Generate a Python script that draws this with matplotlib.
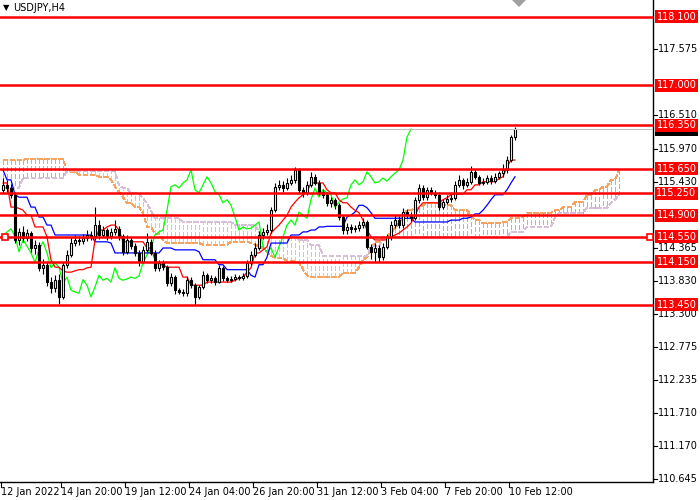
import matplotlib
matplotlib.use('Agg')
import matplotlib.pyplot as plt
from matplotlib.patches import Rectangle, Polygon

plt.rcParams['font.family'] = ['DejaVu Sans']
plt.rcParams['lines.scale_dashes'] = False

# USDJPY H4 candles (bar 0 = 12 Jan 2022)
opens = [
    115.31, 115.39, 115.34, 115.23, 114.50, 114.63, 114.53, 114.61, 114.37, 114.42,
    114.05, 114.10, 113.82, 113.72, 113.86, 113.58, 114.10, 114.26, 114.45, 114.50,
    114.48, 114.53, 114.58, 114.56, 114.74, 114.58, 114.66, 114.56, 114.63, 114.68,
    114.56, 114.31, 114.50, 114.40, 114.29, 114.14, 114.34, 114.47, 114.29, 114.05,
    114.13, 114.06, 113.80, 113.90, 113.69, 113.66, 113.64, 113.86, 113.77, 113.58,
    113.74, 113.93, 113.85, 113.88, 113.82, 114.05, 113.88, 113.85, 113.87, 113.90,
    113.88, 113.92, 114.13, 114.26, 114.37, 114.58, 114.63, 114.66, 114.98, 115.36,
    115.39, 115.34, 115.42, 115.47, 115.63, 115.31, 115.26, 115.39, 115.52, 115.42,
    115.28, 115.23, 115.10, 115.15, 115.06, 114.87, 114.66, 114.71, 114.68, 114.69,
    114.74, 114.79, 114.39, 114.31, 114.37, 114.22, 114.39, 114.55, 114.74, 114.82,
    114.74, 114.95, 114.90, 114.85, 115.15, 115.34, 115.19, 115.31, 115.26, 115.23,
    115.03, 115.11, 115.16, 115.18, 115.39, 115.47, 115.39, 115.44, 115.60, 115.52,
    115.42, 115.44, 115.50, 115.45, 115.52, 115.58, 115.63, 115.79, 116.16]
highs = [
    115.50, 115.47, 115.40, 115.28, 114.70, 114.72, 114.68, 114.64, 114.50, 114.47,
    114.20, 114.15, 113.90, 113.93, 113.95, 114.15, 114.33, 114.55, 114.58, 114.56,
    114.60, 114.66, 114.64, 115.03, 114.82, 114.72, 114.70, 114.69, 114.82, 114.73,
    114.60, 114.58, 114.55, 114.45, 114.33, 114.40, 114.62, 114.52, 114.33, 114.18,
    114.17, 114.10, 113.96, 113.93, 113.73, 113.70, 113.92, 113.90, 113.80, 113.78,
    114.00, 113.97, 113.94, 113.92, 114.10, 114.08, 113.92, 113.92, 113.95, 113.94,
    113.97, 114.18, 114.32, 114.45, 114.65, 114.70, 114.76, 115.03, 115.42, 115.47,
    115.45, 115.50, 115.55, 115.68, 115.66, 115.36, 115.45, 115.60, 115.56, 115.46,
    115.33, 115.27, 115.20, 115.18, 115.10, 114.90, 114.78, 114.75, 114.74, 114.80,
    114.85, 114.82, 114.44, 114.45, 114.42, 114.45, 114.60, 114.80, 114.90, 114.88,
    115.02, 115.00, 114.95, 115.20, 115.40, 115.38, 115.36, 115.35, 115.30, 115.27,
    115.16, 115.22, 115.24, 115.45, 115.55, 115.50, 115.50, 115.70, 115.65, 115.55,
    115.50, 115.55, 115.55, 115.58, 115.62, 115.72, 115.85, 116.20, 116.33]
lows = [
    115.25, 115.28, 115.18, 114.45, 114.42, 114.47, 114.48, 114.30, 114.28, 114.00,
    113.95, 113.75, 113.64, 113.66, 113.47, 113.55, 114.05, 114.22, 114.40, 114.42,
    114.44, 114.48, 114.50, 114.50, 114.52, 114.54, 114.50, 114.52, 114.58, 114.50,
    114.25, 114.27, 114.35, 114.24, 114.08, 114.12, 114.30, 114.25, 114.00, 114.00,
    114.02, 113.75, 113.76, 113.62, 113.62, 113.60, 113.60, 113.72, 113.45, 113.55,
    113.70, 113.80, 113.81, 113.78, 113.80, 113.84, 113.82, 113.82, 113.84, 113.85,
    113.85, 113.88, 114.10, 114.22, 114.33, 114.52, 114.58, 114.62, 114.95, 115.30,
    115.28, 115.30, 115.38, 115.42, 115.25, 115.20, 115.22, 115.35, 115.38, 115.22,
    115.18, 115.05, 115.04, 115.00, 114.82, 114.60, 114.60, 114.62, 114.63, 114.64,
    114.70, 114.35, 114.20, 114.15, 114.15, 114.18, 114.35, 114.50, 114.70, 114.70,
    114.70, 114.85, 114.80, 114.82, 115.10, 115.15, 115.15, 115.22, 115.18, 114.98,
    115.00, 115.08, 115.12, 115.15, 115.35, 115.33, 115.35, 115.40, 115.48, 115.38,
    115.38, 115.40, 115.40, 115.42, 115.48, 115.52, 115.58, 115.76, 116.12]
closes = [
    115.39, 115.34, 115.23, 114.50, 114.63, 114.53, 114.61, 114.37, 114.42, 114.05,
    114.10, 113.82, 113.72, 113.86, 113.58, 114.10, 114.26, 114.45, 114.50, 114.48,
    114.53, 114.58, 114.56, 114.74, 114.58, 114.66, 114.56, 114.63, 114.68, 114.56,
    114.31, 114.50, 114.40, 114.29, 114.14, 114.34, 114.47, 114.29, 114.05, 114.13,
    114.06, 113.80, 113.90, 113.69, 113.66, 113.64, 113.86, 113.77, 113.58, 113.74,
    113.93, 113.85, 113.88, 113.82, 114.05, 113.88, 113.85, 113.87, 113.90, 113.88,
    113.92, 114.13, 114.26, 114.37, 114.58, 114.63, 114.66, 114.98, 115.36, 115.39,
    115.34, 115.42, 115.47, 115.63, 115.31, 115.26, 115.39, 115.52, 115.42, 115.28,
    115.23, 115.10, 115.15, 115.06, 114.87, 114.66, 114.71, 114.68, 114.69, 114.74,
    114.79, 114.39, 114.31, 114.37, 114.22, 114.39, 114.55, 114.74, 114.82, 114.74,
    114.95, 114.90, 114.85, 115.15, 115.34, 115.19, 115.31, 115.26, 115.23, 115.03,
    115.11, 115.16, 115.18, 115.39, 115.47, 115.39, 115.44, 115.60, 115.52, 115.42,
    115.44, 115.50, 115.45, 115.52, 115.58, 115.63, 115.79, 116.16, 116.29]

# Ichimoku lines
tenkan = [
    115.42, 115.42, 115.03, 115.03, 115.01, 114.98, 114.90, 114.90, 114.71, 114.71,
    114.71, 114.55, 114.18, 114.06, 114.06, 114.00, 113.98, 113.98, 114.00, 114.02,
    114.02, 114.05, 114.06, 114.50, 114.66, 114.66, 114.71, 114.74, 114.74, 114.66,
    114.47, 114.47, 114.47, 114.47, 114.47, 114.47, 114.37, 114.37, 114.18, 114.10,
    114.10, 114.06, 114.06, 114.06, 114.06, 113.90, 113.90, 113.77, 113.77, 113.77,
    113.77, 113.82, 113.82, 113.82, 113.82, 113.82, 113.82, 113.82, 113.85, 113.88,
    113.90, 113.98, 114.05, 114.29, 114.29, 114.34, 114.39, 114.61, 114.68, 114.74,
    114.82, 114.90, 115.03, 115.11, 115.18, 115.23, 115.28, 115.42, 115.42, 115.42,
    115.42, 115.31, 115.26, 115.26, 115.15, 115.10, 115.10, 115.03, 114.98, 114.94,
    114.82, 114.66, 114.55, 114.50, 114.50, 114.50, 114.50, 114.55, 114.58, 114.61,
    114.66, 114.71, 114.77, 114.90, 115.03, 115.10, 115.10, 115.10, 115.10, 115.10,
    115.15, 115.18, 115.23, 115.24, 115.24, 115.24, 115.31, 115.31, 115.39, 115.39,
    115.44, 115.44, 115.44, 115.44, 115.49, 115.52, 115.68, 115.79, 115.79]
kijun = [
    115.63, 115.47, 115.47, 115.23, 115.19, 115.19, 115.19, 115.03, 115.03, 114.87,
    114.87, 114.74, 114.74, 114.58, 114.58, 114.58, 114.58, 114.58, 114.58, 114.58,
    114.58, 114.58, 114.58, 114.47, 114.47, 114.47, 114.47, 114.45, 114.29, 114.29,
    114.29, 114.29, 114.29, 114.29, 114.29, 114.29, 114.29, 114.29, 114.29, 114.29,
    114.37, 114.37, 114.37, 114.34, 114.34, 114.34, 114.34, 114.34, 114.34, 114.31,
    114.18, 114.18, 114.18, 114.18, 114.10, 114.10, 114.02, 114.02, 114.02, 114.02,
    114.02, 114.02, 113.93, 113.90, 114.10, 114.10, 114.22, 114.45, 114.45, 114.45,
    114.45, 114.45, 114.58, 114.58, 114.58, 114.63, 114.63, 114.66, 114.66, 114.71,
    114.71, 114.72, 114.72, 114.72, 114.72, 114.72, 114.87, 114.90, 114.95, 115.06,
    115.06, 115.02, 114.94, 114.85, 114.85, 114.85, 114.85, 114.85, 114.85, 114.85,
    114.85, 114.85, 114.85, 114.79, 114.79, 114.79, 114.79, 114.79, 114.79, 114.79,
    114.79, 114.79, 114.82, 114.82, 114.82, 114.85, 114.85, 114.87, 114.92, 114.92,
    114.98, 115.06, 115.15, 115.23, 115.23, 115.23, 115.31, 115.42, 115.52]
span_a = [
    115.79, 115.79, 115.79, 115.79, 115.79, 115.79, 115.81, 115.81, 115.81, 115.81,
    115.81, 115.81, 115.81, 115.81, 115.81, 115.81, 115.60, 115.60, 115.60, 115.55,
    115.55, 115.55, 115.55, 115.55, 115.52, 115.52, 115.52, 115.47, 115.36, 115.28,
    115.19, 115.10, 115.10, 115.03, 115.03, 114.94, 114.71, 114.71, 114.60, 114.60,
    114.50, 114.45, 114.45, 114.45, 114.45, 114.45, 114.45, 114.45, 114.45, 114.45,
    114.42, 114.42, 114.42, 114.42, 114.42, 114.42, 114.42, 114.47, 114.47, 114.47,
    114.47, 114.47, 114.45, 114.42, 114.40, 114.37, 114.30, 114.25, 114.21, 114.21,
    114.21, 114.16, 114.16, 114.16, 114.13, 114.02, 113.93, 113.90, 113.90, 113.90,
    113.90, 113.90, 113.90, 113.90, 113.90, 113.97, 113.97, 113.97, 113.97, 114.06,
    114.18, 114.22, 114.35, 114.47, 114.47, 114.55, 114.55, 114.62, 114.69, 114.78,
    114.87, 114.98, 114.98, 115.02, 115.02, 115.06, 115.10, 115.10, 115.10, 115.10,
    115.06, 115.06, 115.06, 114.98, 114.98, 114.98, 114.98, 114.90, 114.82, 114.82,
    114.77, 114.77, 114.77, 114.77, 114.77, 114.79, 114.79, 114.85, 114.85, 114.85,
    114.87, 114.94, 114.94, 114.94, 114.94, 114.94, 114.94, 114.94, 114.98, 114.98,
    115.03, 115.03, 115.03, 115.11, 115.11, 115.11, 115.23, 115.23, 115.31, 115.31,
    115.36, 115.36, 115.47, 115.47, 115.63]
span_b = [
    115.34, 115.34, 115.34, 115.34, 115.34, 115.50, 115.50, 115.50, 115.50, 115.50,
    115.50, 115.50, 115.50, 115.50, 115.50, 115.50, 115.61, 115.61, 115.61, 115.61,
    115.61, 115.61, 115.61, 115.61, 115.61, 115.61, 115.61, 115.61, 115.61, 115.38,
    115.34, 115.34, 115.25, 115.25, 115.25, 115.18, 115.08, 114.98, 114.85, 114.85,
    114.85, 114.85, 114.85, 114.85, 114.85, 114.79, 114.79, 114.79, 114.79, 114.79,
    114.79, 114.79, 114.79, 114.79, 114.79, 114.79, 114.79, 114.79, 114.74, 114.74,
    114.74, 114.74, 114.74, 114.74, 114.63, 114.55, 114.55, 114.55, 114.55, 114.55,
    114.55, 114.55, 114.55, 114.55, 114.50, 114.50, 114.50, 114.42, 114.42, 114.42,
    114.24, 114.24, 114.24, 114.24, 114.24, 114.24, 114.24, 114.24, 114.24, 114.24,
    114.24, 114.24, 114.40, 114.40, 114.40, 114.50, 114.55, 114.55, 114.55, 114.55,
    114.55, 114.55, 114.55, 114.55, 114.55, 114.55, 114.55, 114.55, 114.55, 114.55,
    114.55, 114.55, 114.55, 114.55, 114.55, 114.55, 114.55, 114.55, 114.55, 114.55,
    114.55, 114.55, 114.55, 114.55, 114.55, 114.55, 114.55, 114.63, 114.63, 114.63,
    114.63, 114.71, 114.71, 114.71, 114.71, 114.71, 114.71, 114.71, 114.87, 114.94,
    114.94, 114.94, 114.94, 114.94, 114.94, 114.94, 115.02, 115.02, 115.02, 115.02,
    115.02, 115.02, 115.10, 115.15, 115.23]
chikou_shift = 26

levels = [118.10, 117.00, 116.35, 115.65, 115.25, 114.90, 114.55, 114.15, 113.45]
price_ticks = [117.575, 116.510, 115.970, 115.430, 114.365, 113.830,
               113.300, 112.775, 112.235, 111.710, 111.170, 110.645]
bid = 116.29
selected_level = 114.55
time_ticks = [0, 15, 31, 47, 63, 79, 95, 111, 127]
time_labels = ['12 Jan 2022', '14 Jan 20:00', '19 Jan 12:00', '24 Jan 04:00',
               '26 Jan 20:00', '31 Jan 12:00', '3 Feb 04:00', '7 Feb 20:00',
               '10 Feb 12:00']

fig = plt.figure(figsize=(7, 5), dpi=100)
ax = fig.add_axes([0, 18 / 500, 653 / 700, 482 / 500])
ax.set_xlim(-0.75, 162.5)
ax.set_ylim(110.592, 118.374)
ax.set_xticks([])
ax.set_yticks([])
for s in ['left', 'top']:
    ax.spines[s].set_visible(False)
for s in ['right', 'bottom']:
    ax.spines[s].set_color('black')
    ax.spines[s].set_linewidth(1)

dash = (0, (3.0, 1.5))
orange = '#F4A460'
thistle = '#D8BFD8'

# kumo: dotted vertical hatch on every bar, drawn crisp like the terminal does
for i in range(len(span_a)):
    a, b = span_a[i], span_b[i]
    col = orange if a >= b else thistle
    ax.plot([i, i], [a, b], color=col, lw=1.0, ls=dash, antialiased=False, zorder=1)
ax.plot(range(len(span_a)), span_a, color=orange, lw=1.0, ls=dash, antialiased=False, zorder=1)
ax.plot(range(len(span_b)), span_b, color=thistle, lw=1.0, ls=dash, antialiased=False, zorder=1)

n = len(closes)
ax.plot(range(n - chikou_shift), closes[chikou_shift:], color='#00FF00', lw=0.9, zorder=2)
ax.plot(range(n), kijun, color='#0000FF', lw=0.9, zorder=2)
ax.plot(range(n), tenkan, color='#FF0000', lw=0.9, zorder=2)

# candles
ax.vlines(range(n), lows, highs, color='black', lw=0.8, zorder=3)
for i in range(n):
    o, c = opens[i], closes[i]
    fc = 'white' if c >= o else 'black'
    ax.bar(i, abs(c - o), bottom=min(o, c), width=0.68, facecolor=fc,
           edgecolor='black', linewidth=0.8, zorder=4)

ax.axhline(bid, color='#C0C0C0', lw=0.8, zorder=4)
for lv in levels:
    ax.axhline(lv, color='#FF0000', lw=1.8, zorder=5)
ax.plot([0.5, 161.75], [selected_level, selected_level], ls='none', marker='s',
        ms=4, mfc='white', mec='#FF0000', mew=1.2, zorder=6, clip_on=False)

# price scale on the right
yt = ax.get_yaxis_transform()
for p in price_ticks:
    ax.plot([1.0, 1.006], [p, p], color='black', lw=0.8, transform=yt, clip_on=False, zorder=7)
    ax.text(1.0077, p, '%.3f' % p, transform=yt, ha='left', va='center',
            fontsize=7, color='black', zorder=7, clip_on=False)

box_w = 43 / 653
box_h = 13 / 61.94
# current bid box sits just under the 116.350 label, as in the terminal
ax.add_patch(Rectangle((1.003, bid - box_h / 2), box_w, box_h, transform=yt,
                       facecolor='black', edgecolor='none', clip_on=False, zorder=8))
for lv in levels:
    ax.add_patch(Rectangle((1.003, lv - box_h / 2), box_w, box_h, transform=yt,
                           facecolor='#FF0000', edgecolor='none', clip_on=False, zorder=9))
    ax.text(1.003 + box_w / 2, lv, '%.3f' % lv, transform=yt, ha='center', va='center',
            fontsize=7, color='white', zorder=10, clip_on=False)

# time scale
xt = ax.get_xaxis_transform()
for t, lab in zip(time_ticks, time_labels):
    ax.plot([t - 0.5, t - 0.5], [0, -0.01], color='black', lw=0.8, transform=xt, clip_on=False)
    ax.text(t - 0.6, -0.021, lab, transform=xt, ha='left', va='center',
            fontsize=7, color='black', clip_on=False)

# header and shift marker
fig.text(3 / 700, 1 - 8 / 500, '\u25BC', fontsize=6, va='center', ha='left', color='black')
fig.text(13 / 700, 1 - 8 / 500, 'USDJPY,H4', fontsize=7, va='center', ha='left', color='black')
fig.patches.append(Polygon([(512 / 700, 1.0), (526 / 700, 1.0), (519 / 700, 1 - 7 / 500)],
                           closed=True, facecolor='#A0A0A0', edgecolor='none',
                           transform=fig.transFigure, figure=fig))

fig.savefig('out.png', dpi=100)
